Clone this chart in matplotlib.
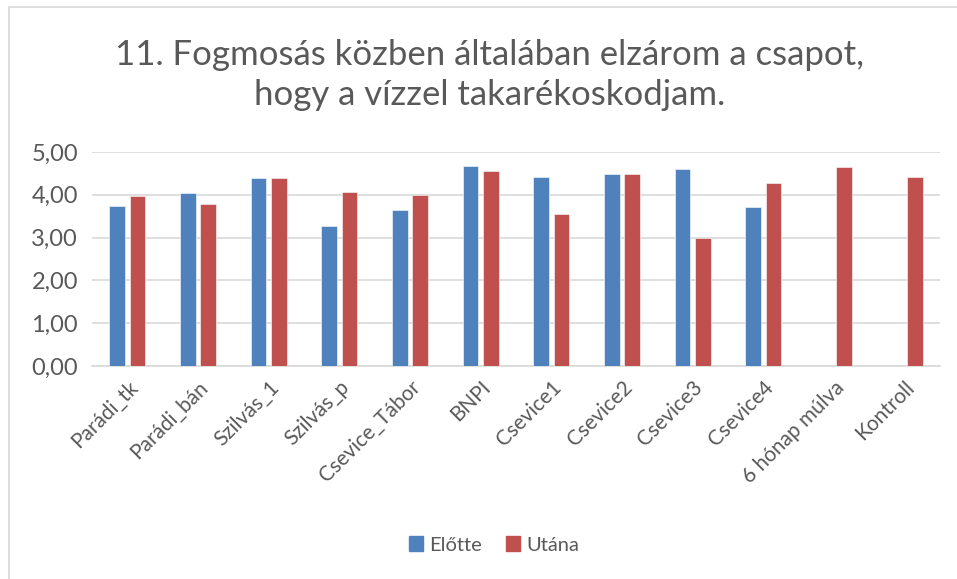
import matplotlib
matplotlib.use("Agg")
import matplotlib.pyplot as plt
import numpy as np
from matplotlib.patches import Rectangle, Patch

plt.rcParams.update({"font.family": ["Lato", "DejaVu Sans"]})

kategoriak = ["Parádi_tk", "Parádi_bán", "Szilvás_1", "Szilvás_p", "Csevice_Tábor", "BNPI",
              "Csevice1", "Csevice2", "Csevice3", "Csevice4", "6 hónap múlva", "Kontroll"]
elotte = [3.73, 4.05, 4.39, 3.28, 3.65, 4.67, 4.42, 4.48, 4.60, 3.72, np.nan, np.nan]
utana = [3.97, 3.79, 4.39, 4.07, 4.00, 4.56, 3.55, 4.48, 3.00, 4.28, 4.65, 4.42]
yticks = [0, 1, 2, 3, 4, 5]

kek = "#4F81BD"
piros = "#C0504D"
szurke = "#595959"

fig = plt.figure(figsize=(9.57, 5.79), dpi=100)
fig.patches.append(Rectangle((9 / 957, -0.1), 1.2, 1 - 7 / 579 + 0.1, transform=fig.transFigure,
                             fill=False, edgecolor="#D9D9D9", linewidth=1.2))
ax = fig.add_axes([92 / 957, 1 - 366 / 579, 848 / 957, 214 / 579])

x = np.arange(len(kategoriak))
w = 0.22
ax.bar(x - 0.145, elotte, w, color=kek, edgecolor="white", linewidth=0.4, zorder=3)
ax.bar(x + 0.145, utana, w, color=piros, edgecolor="white", linewidth=0.4, zorder=3)

ax.set_xlim(-0.5, len(kategoriak) - 0.5)
ax.set_ylim(0, 5)
ax.set_yticks(yticks)
ax.set_yticklabels([f"{v:.2f}".replace(".", ",") for v in yticks], fontsize=17, color=szurke)
ax.yaxis.grid(True, color="#D9D9D9", linewidth=1.2, zorder=0)
ax.set_xticks(x)
ax.set_xticklabels(kategoriak, rotation=45, ha="right", rotation_mode="anchor", fontsize=15, color=szurke)
ax.tick_params(axis="y", length=0, pad=10)
ax.tick_params(axis="x", length=0, pad=8)
for s in ["top", "right", "left"]:
    ax.spines[s].set_visible(False)
ax.spines["bottom"].set_color("#D9D9D9")
ax.spines["bottom"].set_linewidth(1.2)

fig.text(0.512, 1 - 75 / 579, "11. Fogmosás közben általában elzárom a csapot,\nhogy a vízzel takarékoskodjam.",
         ha="center", va="center", fontsize=25, color=szurke, linespacing=1.3)

kezek = [Patch(color=kek), Patch(color=piros)]
fig.legend(kezek, ["Előtte", "Utána"], loc="center", bbox_to_anchor=(494 / 957, 1 - 545 / 579), ncol=2,
           frameon=False, fontsize=14.5, handlelength=0.7, handleheight=0.7, handletextpad=0.3,
           columnspacing=1.2, labelcolor=szurke)

fig.savefig("out.png", dpi=100)
